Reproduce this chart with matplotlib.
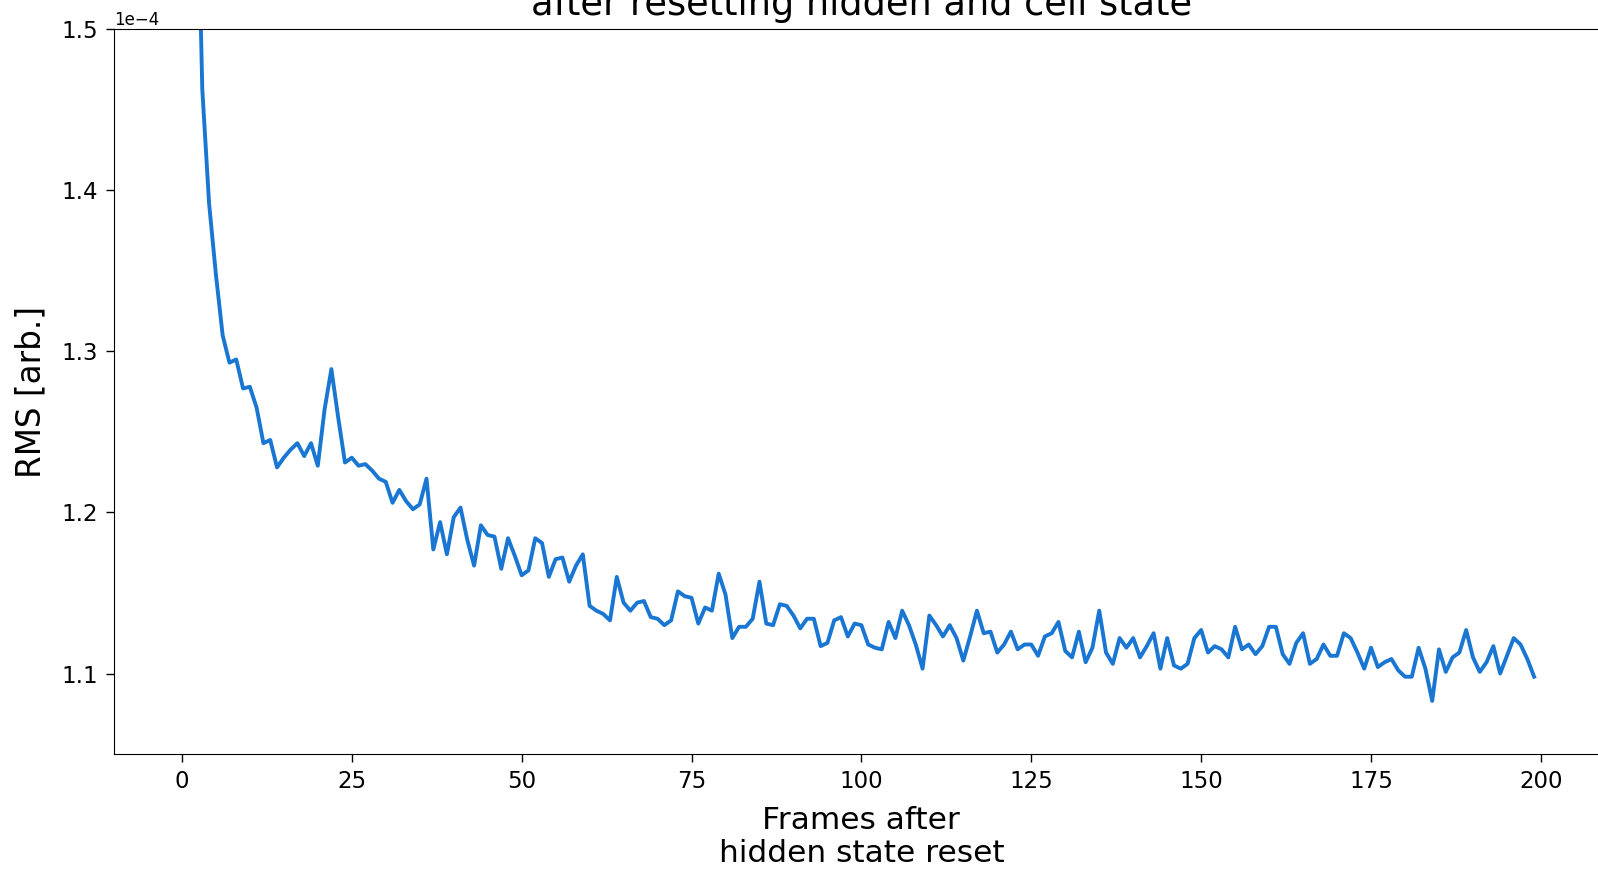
import matplotlib
matplotlib.use("Agg")
import matplotlib.pyplot as plt
import numpy as np

# RMS values (in units of 1e-4) for frames 0..199 after hidden state reset
frames = list(range(200))
rms_e4 = [
    2.30, 1.90, 1.65, 1.463, 1.392, 1.348, 1.310, 1.293, 1.295, 1.277,
    1.278, 1.265, 1.243, 1.245, 1.228, 1.234, 1.239, 1.243, 1.235, 1.243,
    1.229, 1.264, 1.289, 1.259, 1.231, 1.234, 1.229, 1.230, 1.226, 1.221,
    1.219, 1.206, 1.214, 1.207, 1.202, 1.205, 1.221, 1.177, 1.194, 1.174,
    1.197, 1.203, 1.183, 1.167, 1.192, 1.186, 1.185, 1.165, 1.184, 1.173,
    1.161, 1.164, 1.184, 1.181, 1.160, 1.171, 1.172, 1.157, 1.167, 1.174,
    1.142, 1.139, 1.137, 1.133, 1.160, 1.144, 1.139, 1.144, 1.145, 1.135,
    1.134, 1.130, 1.133, 1.151, 1.148, 1.147, 1.131, 1.141, 1.139, 1.162,
    1.149, 1.122, 1.129, 1.129, 1.134, 1.157, 1.131, 1.130, 1.143, 1.142,
    1.136, 1.128, 1.134, 1.134, 1.117, 1.119, 1.133, 1.135, 1.123, 1.131,
    1.130, 1.118, 1.116, 1.115, 1.132, 1.122, 1.139, 1.130, 1.118, 1.103,
    1.136, 1.130, 1.123, 1.130, 1.122, 1.108, 1.123, 1.139, 1.125, 1.126,
    1.113, 1.118, 1.126, 1.115, 1.118, 1.118, 1.111, 1.123, 1.125, 1.132,
    1.114, 1.110, 1.126, 1.107, 1.116, 1.139, 1.113, 1.106, 1.122, 1.116,
    1.122, 1.110, 1.117, 1.125, 1.103, 1.122, 1.105, 1.103, 1.106, 1.122,
    1.127, 1.113, 1.117, 1.115, 1.110, 1.129, 1.115, 1.118, 1.112, 1.117,
    1.129, 1.129, 1.112, 1.106, 1.119, 1.125, 1.106, 1.109, 1.118, 1.111,
    1.111, 1.125, 1.122, 1.113, 1.103, 1.116, 1.104, 1.107, 1.109, 1.102,
    1.098, 1.098, 1.116, 1.103, 1.083, 1.115, 1.101, 1.110, 1.113, 1.127,
    1.110, 1.101, 1.107, 1.117, 1.100, 1.111, 1.122, 1.118, 1.109, 1.098,
]
rms = np.array(rms_e4) * 1e-4

title_text = "after resetting hidden and cell state"
xlabel_text = "Frames after\nhidden state reset"
ylabel_text = "RMS [arb.]"
xticks = [0, 25, 50, 75, 100, 125, 150, 175, 200]
yticks = [1.1e-4, 1.2e-4, 1.3e-4, 1.4e-4, 1.5e-4]

fig = plt.figure(figsize=(15.98, 8.69), dpi=100)
ax = fig.add_axes([0.0713, 0.1323, 0.9355, 0.834])

ax.plot(frames, rms, color="#1976D2", linewidth=2.8)

ax.set_xlim(-10, 210)
ax.set_ylim(1.05e-4, 1.5e-4)
ax.set_xticks(xticks)
ax.set_yticks(yticks)
ax.ticklabel_format(axis="y", style="sci", scilimits=(0, 0))
ax.tick_params(labelsize=16.5, length=5.5, width=1.0, pad=6)
ax.yaxis.get_offset_text().set_fontsize(12)

ax.set_xlabel(xlabel_text, fontsize=22.5, labelpad=9)
ax.set_ylabel(ylabel_text, fontsize=23.5, labelpad=10)
ax.set_title(title_text, fontsize=26.5, pad=10)

fig.savefig("out.png", dpi=100)
